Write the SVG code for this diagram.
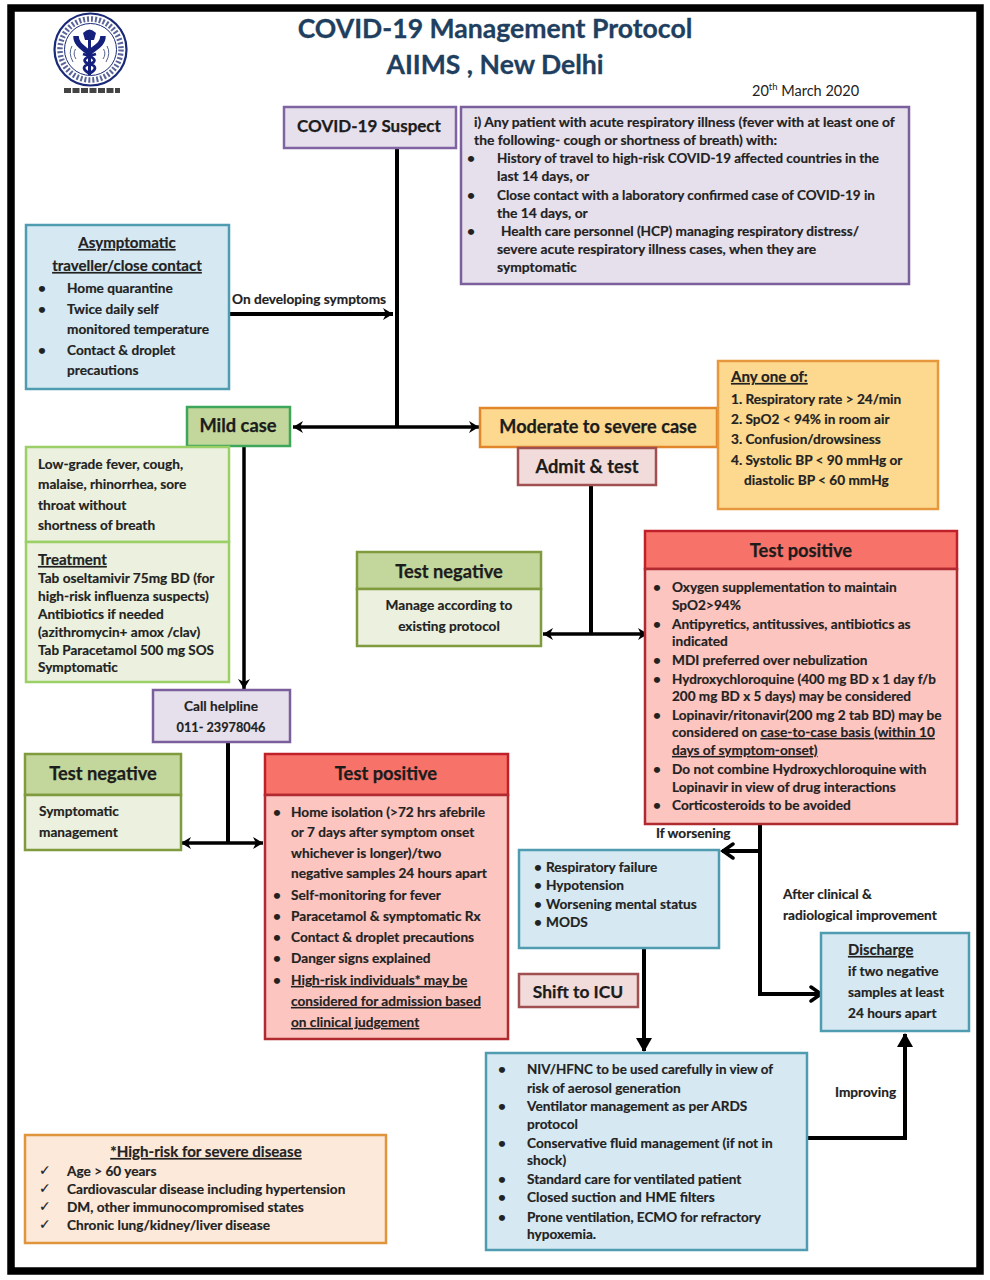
<svg xmlns="http://www.w3.org/2000/svg" width="990" height="1280" viewBox="0 0 990 1280">
<style>
text{font-family:Lato,"Liberation Sans",sans-serif;font-weight:700;font-size:13.65px;fill:#222;stroke:#222;stroke-width:.18px}
.t{font-size:26.6px;fill:#1f3f60;stroke:#1f3f60;stroke-width:.3px;text-anchor:middle}
.h{font-size:18.3px;text-anchor:middle;fill:#1c1c1c;stroke:#1c1c1c;stroke-width:.25px}
.m{text-anchor:middle}
.u{text-decoration:underline}
.uh{font-size:15.1px;text-decoration:underline}
.c{stroke:#000;stroke-width:4;fill:none}
.c2{stroke:#000;stroke-width:3.5;fill:none}
.a{fill:#000;stroke:none}
.o{fill:none;stroke:#000;stroke-width:3.5}
.k{font-family:"DejaVu Sans",sans-serif;font-size:14px}
#criteria text{font-size:13.85px}
</style>
<defs>
<marker id="s" markerUnits="userSpaceOnUse" markerWidth="12" markerHeight="12" refX="10" refY="6" orient="auto-start-reverse"><path class="a" d="M0 0L10 6L0 12L3 6Z"/></marker>
<marker id="o" markerUnits="userSpaceOnUse" markerWidth="16" markerHeight="20" refX="14" refY="9" orient="auto"><path class="o" stroke-linecap="round" d="M3 2L13 9L3 16"/></marker>
<marker id="f" markerUnits="userSpaceOnUse" markerWidth="16" markerHeight="16" refX="13" refY="8" orient="auto"><path class="a" d="M0 0L14 8L0 16Z"/></marker>
</defs>
<rect width="990" height="1280" fill="#fff"/>
<rect x="11" y="8" width="969" height="1263" fill="none" stroke="#000" stroke-width="7.5"/>

<g id="logo">
<circle cx="90.500" cy="49.500" r="36" fill="#fff" stroke="#1a2a78" stroke-width="2.200"/>
<circle cx="90.500" cy="49.500" r="30.500" fill="none" stroke="#5a6498" stroke-width="5.500" stroke-dasharray="2 2"/>
<circle cx="90.500" cy="49.500" r="26" fill="#fff" stroke="#1a2a78" stroke-width="1"/>
<path d="M76 36C76 45 84 48 89 53C94 48 103 45 103 36" fill="none" stroke="#15207c" stroke-width="5.500"/>
<path d="M83 33Q89.500 26 96 33L94 40H85Z" fill="#15207c"/>
<path d="M89.500 33V75" stroke="#15207c" stroke-width="3"/>
<path d="M96 54C82 58 82 62 89.500 64C97 66 97 70 88 74M83 54C97 58 97 62 89.500 64C82 66 82 70 91 74" fill="none" stroke="#15207c" stroke-width="2.800"/>
<path d="M72 46Q68 53 73 62M75.500 49Q72.500 54 76 59M107 46Q111 53 106 62M103.500 49Q106.500 54 103 59" fill="none" stroke="#55608c" stroke-width="1"/>
<path d="M64 90.500H120" stroke="#444" stroke-width="5" stroke-dasharray="7 1.500"/>
</g>

<g id="title">
<text class="t" x="495" y="38">COVID-19 Management Protocol</text>
<text class="t" x="495" y="74">AIIMS , New Delhi</text>
<text x="752" y="96" style="font-weight:400;font-size:14.5px;stroke:none">20<tspan dy="-6" style="font-size:9.5px">th</tspan><tspan dy="6"> March 2020</tspan></text>
</g>

<g id="connectors">
<path class="c" d="M397 147V427"/>
<path class="c" d="M230 314H393" marker-end="url(#s)"/>
<path class="c2" d="M293 427H479" marker-start="url(#s)" marker-end="url(#s)"/>
<path class="c2" d="M244 446V689" marker-end="url(#s)"/>
<path class="c" d="M591 486V634"/>
<path class="c2" d="M543 634H648" marker-start="url(#s)" marker-end="url(#s)"/>
<path class="c" d="M228 743V843"/>
<path class="c2" d="M181 843H263" marker-start="url(#s)" marker-end="url(#s)"/>
<path class="c" d="M760 825V994H822" marker-end="url(#o)"/>
<path class="c" d="M760 851H722" marker-end="url(#o)"/>
<path class="c" d="M644 948V1051" marker-end="url(#f)"/>
<path class="c" d="M808 1138H905V1034" marker-end="url(#f)"/>
</g>

<g id="suspect">
<rect x="284" y="107" width="172" height="41" fill="#e6e0ec" stroke="#8064a2" stroke-width="2.500"/>
<text class="h" x="369" y="132" style="font-size:17px">COVID-19 Suspect</text>
</g>
<g id="criteria">
<rect x="461" y="107" width="448" height="177" fill="#e6e0ec" stroke="#7a5f9c" stroke-width="2.500"/>
<text x="474" y="127">i) Any patient with acute respiratory illness (fever with at least one of</text>
<text x="474" y="145">the following- cough or shortness of breath) with:</text>
<text x="467" y="163">•</text><text x="497" y="163" textLength="382" lengthAdjust="spacingAndGlyphs">History of travel to high-risk COVID-19 affected countries in the</text>
<text x="497" y="181">last 14 days, or</text>
<text x="467" y="200">•</text><text x="497" y="200" textLength="378" lengthAdjust="spacingAndGlyphs">Close contact with a laboratory confirmed case of COVID-19  in</text>
<text x="497" y="218">the 14 days, or</text>
<text x="467" y="236">•</text><text x="501" y="236" textLength="358" lengthAdjust="spacingAndGlyphs">Health care personnel (HCP) managing respiratory distress/</text>
<text x="497" y="254">severe acute respiratory illness cases, when they are</text>
<text x="497" y="272">symptomatic</text>
</g>
<g id="asymptomatic">
<rect x="26" y="225" width="203" height="164" fill="#d6e9f3" stroke="#4f9cb0" stroke-width="2.500"/>
<text class="m uh" x="127" y="248">Asymptomatic</text>
<text class="m uh" x="127" y="271">traveller/close contact</text>
<text x="38" y="293">•</text><text x="67" y="293">Home quarantine</text>
<text x="38" y="314">•</text><text x="67" y="314">Twice daily self</text>
<text x="67" y="334">monitored temperature</text>
<text x="38" y="355">•</text><text x="67" y="355">Contact &amp; droplet</text>
<text x="67" y="375">precautions</text>
</g>
<text x="232" y="304">On developing symptoms</text>

<g id="mild">
<rect x="187" y="407" width="103" height="39" fill="#c3d69b" stroke="#3da65a" stroke-width="2.500"/>
<text class="h" x="238" y="432">Mild case</text>
</g>
<g id="moderate">
<rect x="480" y="408" width="237" height="39" fill="#fcd98f" stroke="#e2862c" stroke-width="2.500"/>
<text class="h" x="598" y="433" style="font-size:18.1px">Moderate to severe case</text>
</g>
<g id="anyone">
<rect x="718" y="361" width="220" height="148" fill="#fcd98f" stroke="#e8983c" stroke-width="2.500"/>
<text x="731" y="382" class="uh">Any one of:</text>
<text x="731" y="404">1. Respiratory rate &gt; 24/min</text>
<text x="731" y="424">2. SpO2 &lt; 94% in room air</text>
<text x="731" y="444">3. Confusion/drowsiness</text>
<text x="731" y="465">4. Systolic BP &lt; 90 mmHg or</text>
<text x="744" y="485">diastolic BP &lt; 60 mmHg</text>
</g>
<g id="admit">
<rect x="518" y="448" width="138" height="37" fill="#f2dcdb" stroke="#a05050" stroke-width="2.500"/>
<text class="h" x="587" y="473">Admit &amp; test</text>
</g>
<g id="mild-symptoms">
<rect x="26" y="447" width="203" height="95" fill="#ebf1de" stroke="#9bd067" stroke-width="2.500"/>
<text x="38" y="469">Low-grade fever, cough,</text>
<text x="38" y="489">malaise, rhinorrhea, sore</text>
<text x="38" y="510">throat without</text>
<text x="38" y="530">shortness of breath</text>
</g>
<g id="mild-treatment">
<rect x="26" y="542" width="203" height="140" fill="#ebf1de" stroke="#9bd067" stroke-width="2.500"/>
<text x="38" y="565" class="uh">Treatment</text>
<text x="38" y="583">Tab oseltamivir 75mg BD (for</text>
<text x="38" y="601">high-risk influenza suspects)</text>
<text x="38" y="619">Antibiotics if needed</text>
<text x="38" y="637">(azithromycin+ amox /clav)</text>
<text x="38" y="655" textLength="176" lengthAdjust="spacingAndGlyphs">Tab Paracetamol 500 mg SOS</text>
<text x="38" y="672">Symptomatic</text>
</g>
<g id="neg-moderate">
<rect x="357" y="552" width="184" height="37" fill="#c3d69b" stroke="#7f9b3e" stroke-width="2.500"/>
<rect x="357" y="589" width="184" height="57" fill="#ebf1de" stroke="#7f9b3e" stroke-width="2.500"/>
<text class="h" x="449" y="578">Test negative</text>
<text class="m" x="449" y="610">Manage according to</text>
<text class="m" x="449" y="631">existing protocol</text>
</g>
<g id="pos-moderate">
<rect x="645" y="531" width="312" height="38" fill="#f7736a" stroke="#c0202a" stroke-width="2.500"/>
<rect x="645" y="569" width="312" height="255" fill="#fdc5c0" stroke="#b02a30" stroke-width="2.500"/>
<text class="h" x="801" y="557">Test positive</text>
<text x="653" y="592">•</text><text x="672" y="592">Oxygen supplementation to maintain</text>
<text x="672" y="610">SpO2&gt;94%</text>
<text x="653" y="629">•</text><text x="672" y="629">Antipyretics, antitussives, antibiotics as</text>
<text x="672" y="646">indicated</text>
<text x="653" y="665">•</text><text x="672" y="665">MDI preferred over nebulization</text>
<text x="653" y="684">•</text><text x="672" y="684" textLength="264" lengthAdjust="spacingAndGlyphs">Hydroxychloroquine (400 mg BD x 1 day f/b</text>
<text x="672" y="701" textLength="239" lengthAdjust="spacingAndGlyphs">200 mg BD x 5 days) may be considered</text>
<text x="653" y="720">•</text><text x="672" y="720">Lopinavir/ritonavir(200 mg 2 tab BD) may be</text>
<text x="672" y="737">considered on <tspan class="u">case-to-case basis (within 10</tspan></text>
<text x="672" y="755" class="u">days of symptom-onset)</text>
<text x="653" y="774">•</text><text x="672" y="774">Do not combine Hydroxychloroquine with</text>
<text x="672" y="792">Lopinavir in view of drug interactions</text>
<text x="653" y="810">•</text><text x="672" y="810">Corticosteroids to be avoided</text>
</g>
<g id="helpline">
<rect x="153" y="690" width="137" height="52" fill="#e6e0ec" stroke="#7a5f9c" stroke-width="2.500"/>
<text class="m" x="221" y="711">Call helpline</text>
<text class="m" x="221" y="732" textLength="89" lengthAdjust="spacingAndGlyphs">011- 23978046</text>
</g>
<g id="neg-mild">
<rect x="25" y="754" width="156" height="41" fill="#c3d69b" stroke="#7f9b3e" stroke-width="2.500"/>
<rect x="25" y="795" width="156" height="55" fill="#ebf1de" stroke="#7f9b3e" stroke-width="2.500"/>
<text class="h" x="103" y="780">Test negative</text>
<text x="39" y="816">Symptomatic</text>
<text x="39" y="837">management</text>
</g>
<g id="pos-mild">
<rect x="265" y="754" width="243" height="41" fill="#f7736a" stroke="#c0202a" stroke-width="2.500"/>
<rect x="265" y="795" width="243" height="244" fill="#fdc5c0" stroke="#b02a30" stroke-width="2.500"/>
<text class="h" x="386" y="780">Test positive</text>
<text x="273" y="817">•</text><text x="291" y="817">Home isolation (&gt;72 hrs afebrile</text>
<text x="291" y="837">or 7 days after symptom onset</text>
<text x="291" y="858">whichever is longer)/two</text>
<text x="291" y="878">negative samples 24 hours apart</text>
<text x="273" y="900">•</text><text x="291" y="900">Self-monitoring for fever</text>
<text x="273" y="921">•</text><text x="291" y="921">Paracetamol &amp; symptomatic Rx</text>
<text x="273" y="942">•</text><text x="291" y="942">Contact &amp; droplet precautions</text>
<text x="273" y="963">•</text><text x="291" y="963">Danger signs explained</text>
<text x="273" y="985">•</text><text x="291" y="985" class="u">High-risk individuals* may be</text>
<text x="291" y="1006" class="u">considered for admission based</text>
<text x="291" y="1027" class="u">on clinical judgement</text>
</g>
<text x="656" y="838">If worsening</text>
<g id="worsening">
<rect x="519" y="850" width="200" height="98" fill="#d6e9f3" stroke="#4f9cb0" stroke-width="2.500"/>
<text x="534" y="872">•</text><text x="546" y="872">Respiratory failure</text>
<text x="534" y="890">•</text><text x="546" y="890">Hypotension</text>
<text x="534" y="909">•</text><text x="546" y="909">Worsening mental status</text>
<text x="534" y="927">•</text><text x="546" y="927">MODS</text>
</g>
<text x="783" y="899">After clinical &amp;</text>
<text x="783" y="920">radiological improvement</text>
<g id="discharge">
<rect x="821" y="933" width="148" height="98" fill="#d6e9f3" stroke="#4f9cb0" stroke-width="2.500"/>
<text x="848" y="955" class="uh" style="font-size:14.8px">Discharge</text>
<text x="848" y="976">if two negative</text>
<text x="848" y="997">samples at least</text>
<text x="848" y="1018">24 hours apart</text>
</g>
<g id="icu">
<rect x="519" y="974" width="119" height="33" fill="#f2dcdb" stroke="#a05050" stroke-width="2.500"/>
<text x="578" y="998" class="h" style="font-size:17.4px">Shift to ICU</text>
</g>
<g id="icu-care">
<rect x="486" y="1053" width="321" height="197" fill="#d6e9f3" stroke="#4f9cb0" stroke-width="2.500"/>
<text x="498" y="1074">•</text><text x="527" y="1074" textLength="246" lengthAdjust="spacingAndGlyphs">NIV/HFNC to be used carefully in view of</text>
<text x="527" y="1093">risk of aerosol generation</text>
<text x="498" y="1111">•</text><text x="527" y="1111">Ventilator management as per ARDS</text>
<text x="527" y="1129">protocol</text>
<text x="498" y="1148">•</text><text x="527" y="1148">Conservative fluid management (if not in</text>
<text x="527" y="1165">shock)</text>
<text x="498" y="1184">•</text><text x="527" y="1184">Standard care for ventilated patient</text>
<text x="498" y="1202">•</text><text x="527" y="1202">Closed suction and HME filters</text>
<text x="498" y="1222">•</text><text x="527" y="1222" textLength="234" lengthAdjust="spacingAndGlyphs">Prone ventilation, ECMO for refractory</text>
<text x="527" y="1239">hypoxemia.</text>
</g>
<text x="835" y="1097">Improving</text>
<g id="high-risk">
<rect x="25" y="1135" width="361" height="108" fill="#fde9d9" stroke="#e0943c" stroke-width="2.500"/>
<text class="m uh" x="206" y="1157">*High-risk for severe disease</text>
<text class="k" x="39" y="1175">✓</text><text x="67" y="1176">Age &gt; 60 years</text>
<text class="k" x="39" y="1193">✓</text><text x="67" y="1194">Cardiovascular disease including hypertension</text>
<text class="k" x="39" y="1211">✓</text><text x="67" y="1212">DM, other immunocompromised states</text>
<text class="k" x="39" y="1229">✓</text><text x="67" y="1230">Chronic lung/kidney/liver disease</text>
</g>
</svg>
